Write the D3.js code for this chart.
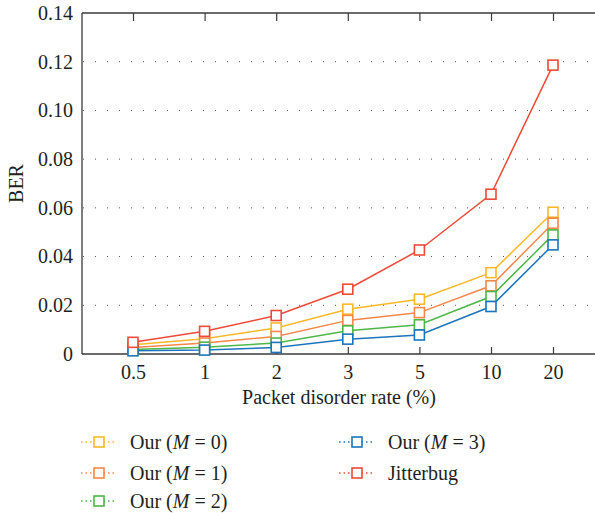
<!DOCTYPE html>
<html>
<head>
<meta charset="utf-8">
<script src="https://cdn.jsdelivr.net/npm/d3@7"></script>
<style>
  html, body { margin: 0; padding: 0; background: #fff; }
  svg { display: block; }
  text { font-family: "Liberation Serif", "DejaVu Serif", serif; fill: #231f20; }
</style>
</head>
<body>
<svg id="chart" width="595" height="513"></svg>
<script>
// Packet disorder rates (%) on the x axis
const rates = ["0.5", "1", "2", "3", "5", "10", "20"];
const yTicks = [0, 0.02, 0.04, 0.06, 0.08, 0.10, 0.12, 0.14];

// BER per method
const berM0 = [0.0038, 0.0063, 0.0107, 0.0184, 0.0225, 0.0334, 0.0582];
const berM1 = [0.0027, 0.0045, 0.0072, 0.0138, 0.0170, 0.0280, 0.0537];
const berM2 = [0.0018, 0.0028, 0.0045, 0.0095, 0.0120, 0.0236, 0.0489];
const berM3 = [0.0013, 0.0016, 0.0027, 0.0061, 0.0078, 0.0195, 0.0448];
const berJitterbug = [0.0048, 0.0093, 0.0158, 0.0266, 0.0427, 0.0656, 0.1186];

const seriesNames = ["M0", "M1", "M2", "M3", "Jitterbug"];
const seriesColors = ["#fbb829", "#f5874a", "#4fb648", "#1c75bc", "#ee4a38"];

const series = [
  { name: "M0", values: berM0, m: "0" },
  { name: "M1", values: berM1, m: "1" },
  { name: "M2", values: berM2, m: "2" },
  { name: "M3", values: berM3, m: "3" },
  { name: "Jitterbug", values: berJitterbug, m: null }
];

const color = d3.scaleOrdinal().domain(seriesNames).range(seriesColors);

const svg = d3.select("#chart");
const plotLeft = 82, plotRight = 595, plotTop = 13, plotBottom = 354;
const fontSize = 20;

// category index -> pixel; the last interval is a little narrower
const x = d3.scaleLinear().domain([0, 5, 6]).range([133, 491, 553]);
const y = d3.scaleLinear().domain([0, 0.14]).range([plotBottom, plotTop]);

const axisColor = "#3a3a3a";

// dotted horizontal grid
svg.append("g")
  .selectAll("line")
  .data(yTicks.filter(v => v > 0 && v < 0.14))
  .join("line")
  .attr("x1", plotLeft + 1).attr("x2", plotRight)
  .attr("y1", d => y(d)).attr("y2", d => y(d))
  .attr("stroke", "#555")
  .attr("stroke-width", 1)
  .attr("stroke-dasharray", "1,11")
  .attr("stroke-dashoffset", -12);

// bottom axis (ticks pointing inward)
const xAxis = d3.axisBottom(x)
  .tickValues(d3.range(rates.length))
  .tickFormat(i => rates[i])
  .tickSizeInner(-7).tickSizeOuter(0).tickPadding(11);
const gx = svg.append("g").attr("transform", `translate(0,${plotBottom})`).call(xAxis);
gx.select(".domain").remove();
gx.selectAll(".tick line").attr("stroke", axisColor).attr("stroke-width", 1.2);
gx.selectAll(".tick text").attr("font-size", fontSize).attr("fill", "#231f20")
  .attr("font-family", "Liberation Serif");

// top axis (ticks only)
const xTop = d3.axisTop(x)
  .tickValues(d3.range(rates.length))
  .tickFormat("")
  .tickSizeInner(-8).tickSizeOuter(0);
const gt = svg.append("g").attr("transform", `translate(0,${plotTop})`).call(xTop);
gt.select(".domain").remove();
gt.selectAll(".tick line").attr("stroke", axisColor).attr("stroke-width", 1.2);

// frame lines
svg.append("line").attr("x1", plotLeft).attr("x2", plotRight).attr("y1", plotBottom).attr("y2", plotBottom)
  .attr("stroke", axisColor).attr("stroke-width", 1.3);
svg.append("line").attr("x1", plotLeft).attr("x2", plotRight).attr("y1", plotTop).attr("y2", plotTop)
  .attr("stroke", axisColor).attr("stroke-width", 1.3);
svg.append("line").attr("x1", plotLeft).attr("x2", plotLeft).attr("y1", plotTop).attr("y2", plotBottom)
  .attr("stroke", axisColor).attr("stroke-width", 1.3);

// left axis labels
const yAxis = d3.axisLeft(y)
  .tickValues(yTicks)
  .tickFormat(v => v === 0 ? "0" : d3.format(".2f")(v))
  .tickSize(0).tickPadding(9);
const gy = svg.append("g").attr("transform", `translate(${plotLeft},0)`).call(yAxis);
gy.select(".domain").remove();
gy.selectAll(".tick text").attr("font-size", fontSize).attr("fill", "#231f20")
  .attr("font-family", "Liberation Serif");

// axis titles
svg.append("text")
  .attr("x", 339).attr("y", 404)
  .attr("text-anchor", "middle").attr("font-size", fontSize)
  .text("Packet disorder rate (%)");
svg.append("text")
  .attr("transform", `translate(23,${(plotTop + plotBottom) / 2}) rotate(-90)`)
  .attr("text-anchor", "middle").attr("font-size", fontSize)
  .text("BER");

// series lines and square markers
const line = d3.line().x((d, i) => x(i)).y(d => y(d));
const ms = 10;
const gs = svg.append("g").selectAll("g").data(series).join("g");
gs.append("path")
  .attr("d", d => line(d.values))
  .attr("fill", "none")
  .attr("stroke", d => color(d.name))
  .attr("stroke-width", 1.5);
gs.selectAll("rect")
  .data(d => d.values.map((v, i) => ({ v, i, name: d.name })))
  .join("rect")
  .attr("x", d => x(d.i) - ms / 2).attr("y", d => y(d.v) - ms / 2)
  .attr("width", ms).attr("height", ms)
  .attr("fill", "#fff")
  .attr("stroke", d => color(d.name))
  .attr("stroke-width", 1.6);

// legend
const legendPos = [
  { x: 99, y: 442 }, { x: 99, y: 473 }, { x: 99, y: 501 },
  { x: 357, y: 442 }, { x: 357, y: 473 }
];
const lg = svg.append("g").selectAll("g").data(series).join("g")
  .attr("transform", (d, i) => `translate(${legendPos[i].x},${legendPos[i].y})`);
lg.append("line")
  .attr("x1", -18).attr("x2", 18).attr("y1", 0).attr("y2", 0)
  .attr("stroke", d => color(d.name))
  .attr("stroke-width", 1.5)
  .attr("stroke-dasharray", "1.5,3");
lg.append("rect")
  .attr("x", -ms / 2).attr("y", -ms / 2).attr("width", ms).attr("height", ms)
  .attr("fill", "#fff")
  .attr("stroke", d => color(d.name))
  .attr("stroke-width", 1.6);
const lt = lg.append("text")
  .attr("x", 31).attr("y", 6.5)
  .attr("font-size", fontSize);
lt.each(function (d) {
  const t = d3.select(this);
  if (d.m === null) {
    t.text("Jitterbug");
  } else {
    t.append("tspan").text("Our (");
    t.append("tspan").attr("font-style", "italic").text("M");
    t.append("tspan").text(" = " + d.m + ")");
  }
});
</script>
</body>
</html>
